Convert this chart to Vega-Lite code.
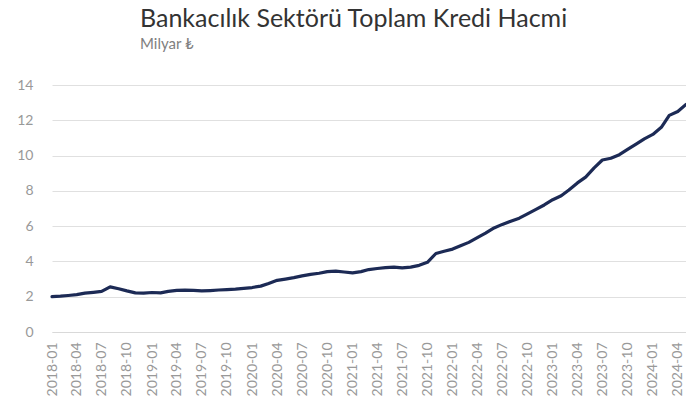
{
  "$schema": "https://vega.github.io/schema/vega-lite/v6.json",
  "width": 634,
  "height": 247,
  "autosize": "none",
  "padding": {"left": 52, "top": 85, "right": 0, "bottom": 81},
  "background": "white",
  "title": {
    "text": "Bankacılık Sektörü Toplam Kredi Hacmi",
    "subtitle": "Milyar ₺",
    "anchor": "start",
    "frame": "group",
    "dx": 88,
    "offset": 26,
    "font": "Lato",
    "fontSize": 25,
    "fontWeight": "normal",
    "color": "#333333",
    "subtitleFont": "Lato",
    "subtitleFontSize": 15,
    "subtitleColor": "#808080",
    "subtitlePadding": 5
  },
  "config": {
    "view": {"stroke": null},
    "axis": {"labelFont": "Lato", "labelColor": "#999999", "labelFontSize": 14}
  },
  "data": {
    "values": [
      {"date": "2018-01-01", "value": 2.00},
      {"date": "2018-02-01", "value": 2.03},
      {"date": "2018-03-01", "value": 2.07},
      {"date": "2018-04-01", "value": 2.12},
      {"date": "2018-05-01", "value": 2.20},
      {"date": "2018-06-01", "value": 2.25},
      {"date": "2018-07-01", "value": 2.30},
      {"date": "2018-08-01", "value": 2.56},
      {"date": "2018-09-01", "value": 2.45},
      {"date": "2018-10-01", "value": 2.33},
      {"date": "2018-11-01", "value": 2.22},
      {"date": "2018-12-01", "value": 2.20},
      {"date": "2019-01-01", "value": 2.24},
      {"date": "2019-02-01", "value": 2.22},
      {"date": "2019-03-01", "value": 2.30},
      {"date": "2019-04-01", "value": 2.36},
      {"date": "2019-05-01", "value": 2.37},
      {"date": "2019-06-01", "value": 2.36},
      {"date": "2019-07-01", "value": 2.33},
      {"date": "2019-08-01", "value": 2.35},
      {"date": "2019-09-01", "value": 2.38},
      {"date": "2019-10-01", "value": 2.40},
      {"date": "2019-11-01", "value": 2.43},
      {"date": "2019-12-01", "value": 2.47},
      {"date": "2020-01-01", "value": 2.52},
      {"date": "2020-02-01", "value": 2.60},
      {"date": "2020-03-01", "value": 2.75},
      {"date": "2020-04-01", "value": 2.93},
      {"date": "2020-05-01", "value": 3.00},
      {"date": "2020-06-01", "value": 3.08},
      {"date": "2020-07-01", "value": 3.18},
      {"date": "2020-08-01", "value": 3.27},
      {"date": "2020-09-01", "value": 3.33},
      {"date": "2020-10-01", "value": 3.42},
      {"date": "2020-11-01", "value": 3.45},
      {"date": "2020-12-01", "value": 3.40},
      {"date": "2021-01-01", "value": 3.35},
      {"date": "2021-02-01", "value": 3.42},
      {"date": "2021-03-01", "value": 3.54},
      {"date": "2021-04-01", "value": 3.60},
      {"date": "2021-05-01", "value": 3.65},
      {"date": "2021-06-01", "value": 3.68},
      {"date": "2021-07-01", "value": 3.63},
      {"date": "2021-08-01", "value": 3.68},
      {"date": "2021-09-01", "value": 3.78},
      {"date": "2021-10-01", "value": 3.95},
      {"date": "2021-11-01", "value": 4.45},
      {"date": "2021-12-01", "value": 4.58},
      {"date": "2022-01-01", "value": 4.70},
      {"date": "2022-02-01", "value": 4.90},
      {"date": "2022-03-01", "value": 5.08},
      {"date": "2022-04-01", "value": 5.35},
      {"date": "2022-05-01", "value": 5.60},
      {"date": "2022-06-01", "value": 5.90},
      {"date": "2022-07-01", "value": 6.10},
      {"date": "2022-08-01", "value": 6.28},
      {"date": "2022-09-01", "value": 6.45},
      {"date": "2022-10-01", "value": 6.70},
      {"date": "2022-11-01", "value": 6.95},
      {"date": "2022-12-01", "value": 7.20},
      {"date": "2023-01-01", "value": 7.50},
      {"date": "2023-02-01", "value": 7.72},
      {"date": "2023-03-01", "value": 8.05},
      {"date": "2023-04-01", "value": 8.45},
      {"date": "2023-05-01", "value": 8.78},
      {"date": "2023-06-01", "value": 9.30},
      {"date": "2023-07-01", "value": 9.75},
      {"date": "2023-08-01", "value": 9.85},
      {"date": "2023-09-01", "value": 10.05},
      {"date": "2023-10-01", "value": 10.35},
      {"date": "2023-11-01", "value": 10.65},
      {"date": "2023-12-01", "value": 10.95},
      {"date": "2024-01-01", "value": 11.20},
      {"date": "2024-02-01", "value": 11.60},
      {"date": "2024-03-01", "value": 12.28},
      {"date": "2024-04-01", "value": 12.50},
      {"date": "2024-05-01", "value": 12.90}
    ]
  },
  "mark": {"type": "line", "color": "#1c2a55", "strokeWidth": 3.2, "strokeJoin": "round", "strokeCap": "round"},
  "encoding": {
    "x": {
      "field": "date",
      "type": "temporal",
      "timeUnit": "utcyearmonth",
      "title": null,
      "scale": {"nice": false},
      "axis": {
        "labelExpr": "utcFormat(datum.value, '%Y-%m')",
        "tickCount": {"interval": "month", "step": 3},
        "labelAngle": 270,
        "labelAlign": "right",
        "labelBaseline": "middle",
        "labelPadding": 10,
        "labelOverlap": false,
        "labelFlush": false,
        "ticks": false,
        "grid": false,
        "domain": true,
        "domainColor": "#d9d9d9",
        "domainWidth": 1
      }
    },
    "y": {
      "field": "value",
      "type": "quantitative",
      "title": null,
      "scale": {"domain": [0, 14]},
      "axis": {
        "values": [0, 2, 4, 6, 8, 10, 12, 14],
        "ticks": false,
        "domain": false,
        "grid": true,
        "gridColor": "#e0e0e0",
        "gridWidth": 1,
        "labelPadding": 19
      }
    }
  }
}
